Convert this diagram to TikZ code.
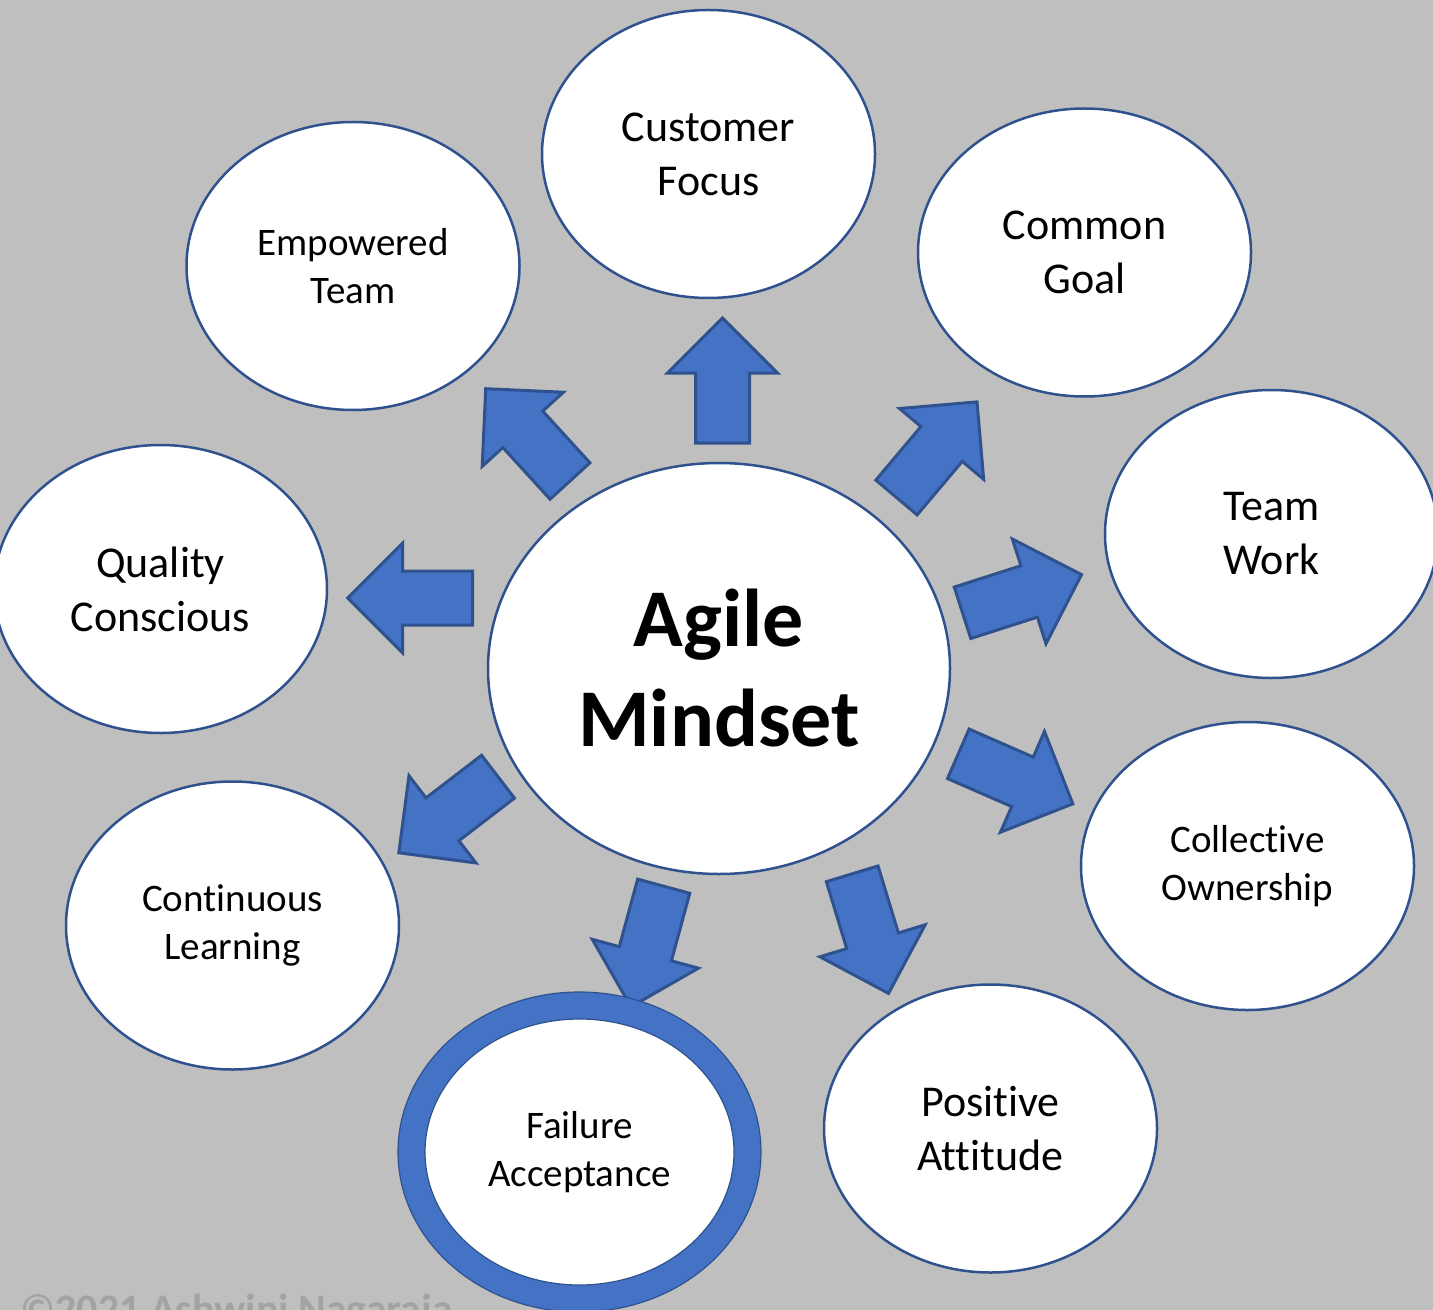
\documentclass[tikz,border=0pt]{standalone}
\usepackage{fontspec}
\setmainfont{Carlito}[Ligatures={NoCommon}]
\usetikzlibrary{shapes.geometric}
\definecolor{bggrey}{HTML}{BFBFBF}
\definecolor{ringblue}{HTML}{4472C4}
\definecolor{edgeblue}{HTML}{2F528F}
\definecolor{markgrey}{HTML}{A3A3A3}
\begin{document}
\begin{tikzpicture}[x=0.5pt,y=-0.5pt,
  bubble/.style={ellipse, draw=edgeblue, line width=1.25pt, fill=white,
    inner sep=0pt, align=center, minimum width=166.5pt, minimum height=144pt},
  bigtext/.style={font=\fontsize{22}{27}\selectfont},
  smalltext/.style={font=\fontsize{19.5}{24}\selectfont},
  arrowshape/.style={fill=ringblue, draw=edgeblue, line width=1.5pt, line join=miter},
  bigarrow/.pic={\path[arrowshape] (0,-27) -- (70,-27) -- (70,-55) -- (125,0)
      -- (70,55) -- (70,27) -- (0,27) -- cycle;}]
\useasboundingbox (0,0) rectangle (1433,1310);
\clip (0,0) rectangle (1433,1310);
\fill[bggrey] (0,0) rectangle (1433,1310);

% watermark along the lower edge
\node[anchor=base west, inner sep=0pt, text=markgrey,
  font=\fontsize{21}{25}\bfseries\selectfont] (mark) at (20,1323) {©2021 Ashwini Nagaraja};

% block arrows radiating from the centre
\coordinate (aUp) at (722.5,443);
\coordinate (aUL) at (570,481);
\coordinate (aUR) at (896.5,497.5);
\coordinate (aL)  at (472.7,598);
\coordinate (aLL) at (498,776.7);
\coordinate (aR)  at (962.5,612.8);
\coordinate (aLR) at (958.3,753.8);
\coordinate (aDR) at (852.2,873.8);
\coordinate (aD)  at (663.7,886.2);
\pic[rotate=90]     at (aUp) {bigarrow};
\pic[rotate=132.4]  at (aUL) {bigarrow};
\pic[rotate=49.9]   at (aUR) {bigarrow};
\pic[rotate=180]    at (aL)  {bigarrow};
\pic[rotate=217.5]  at (aLL) {bigarrow};
\pic[rotate=17.8]   at (aR)  {bigarrow};
\pic[rotate=-23.6]  at (aLR) {bigarrow};
\pic[rotate=-73.1]  at (aDR) {bigarrow};
\pic[rotate=-105.2] at (aD)  {bigarrow};

% surrounding values
\node[bubble, bigtext] (cf) at (708.5,154) {Customer\\Focus};
\node[bubble, smalltext] (et) at (353,266) {Empowered\\Team};
\node[bubble, bigtext] (cg) at (1084.5,252.5) {Common\\Goal};
\node[bubble, bigtext] (tw) at (1271.5,534) {Team\\Work};
\node[bubble, bigtext] (qc) at (160.5,589) {Quality\\Conscious};
\node[bubble, smalltext] (cl) at (232.5,925.5) {Continuous\\Learning};
\node[bubble, smalltext] (co) at (1247.5,866) {Collective\\Ownership};
\node[bubble, bigtext] (pa) at (990.5,1128.5) {Positive\\Attitude};

% highlighted value with a thick ring
\node[ellipse, draw=edgeblue, line width=0.6pt, fill=ringblue, inner sep=0pt,
  minimum width=181.5pt, minimum height=160pt] (faring) at (579.5,1152) {};
\node[ellipse, draw=edgeblue, line width=0.6pt, fill=white, inner sep=0pt,
  align=center, minimum width=154.5pt, minimum height=133pt, smalltext] (fa)
  at (579.5,1152) {Failure\\Acceptance};

% centre
\node[bubble, minimum width=231pt, minimum height=205.5pt,
  font=\fontsize{41}{50}\bfseries\selectfont] (am) at (719,668.5) {Agile\\Mindset};
\end{tikzpicture}
\end{document}
